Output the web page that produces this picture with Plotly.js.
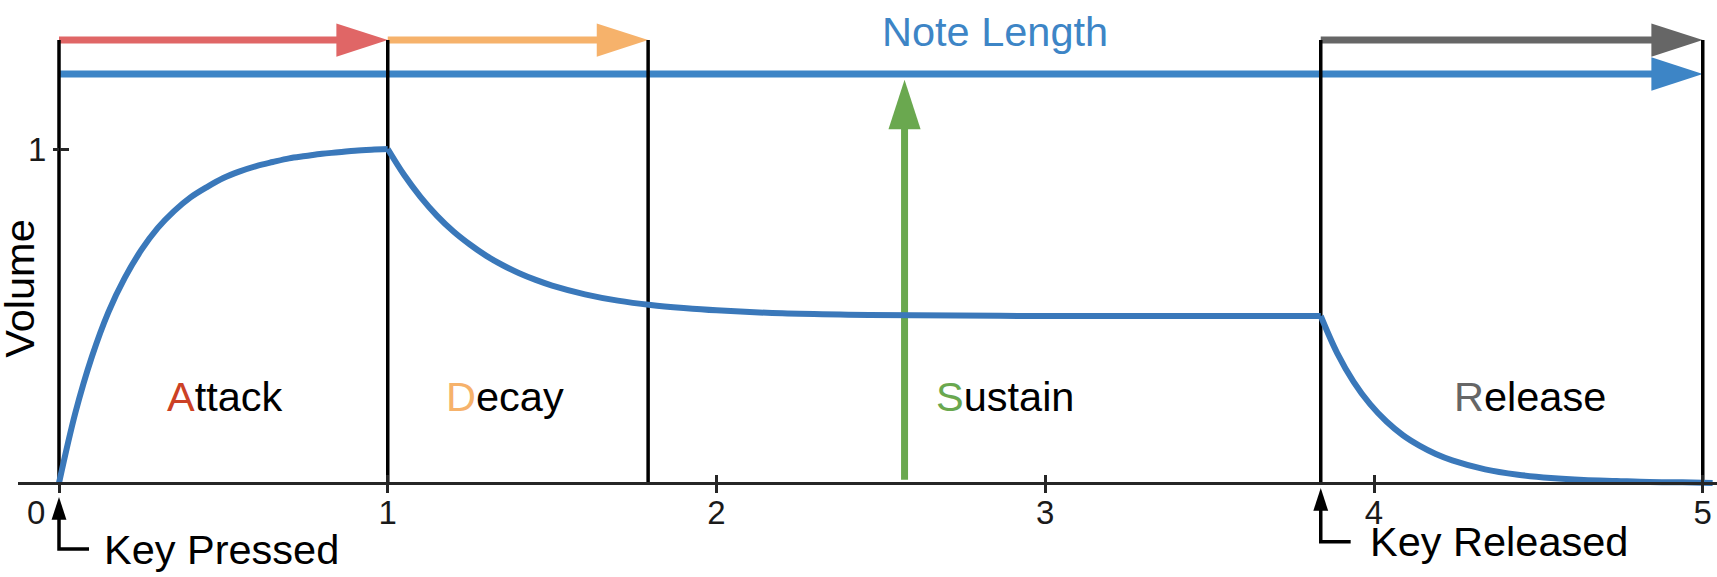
<!DOCTYPE html>
<html>
<head>
<meta charset="utf-8">
<script src="https://cdn.plot.ly/plotly-3.0.1.min.js"></script>
<style>
  html, body { margin: 0; padding: 0; background: #fff; }
  #chart { width: 1717px; height: 577px; }
</style>
</head>
<body>
<div id="chart"></div>
<script>
// ---------- data ----------
const phaseNames = ['Attack', 'Decay', 'Sustain', 'Release'];
const phaseInitialColors = ['#cc4125', '#f6b26b', '#6aa84f', '#666666'];
const phaseBounds = [0, 1, 1.792, 3.838, 5];
const phaseLabelX = [0.505, 1.358, 2.879, 4.473];
const phaseLabelY = 0.259;

const attackX = [0, 0.05, 0.1, 0.15, 0.2, 0.25, 0.3, 0.35, 0.4, 0.45, 0.5, 0.55, 0.6, 0.65, 0.7, 0.75, 0.8, 0.85, 0.9, 0.95, 1.0];
const attackY = [0, 0.211, 0.378, 0.511, 0.614, 0.697, 0.763, 0.814, 0.855, 0.886, 0.913, 0.933, 0.949, 0.961, 0.972, 0.979, 0.986, 0.990, 0.995, 0.998, 1.0];
const decayX = [1.0, 1.05, 1.1, 1.15, 1.2, 1.25, 1.3, 1.35, 1.4, 1.45, 1.5, 1.6, 1.7, 1.8, 1.9, 2.0, 2.2, 2.4, 2.6, 3.0, 3.4, 3.838];
const decayY = [1.0, 0.922, 0.856, 0.800, 0.753, 0.714, 0.680, 0.652, 0.628, 0.608, 0.591, 0.565, 0.546, 0.533, 0.524, 0.517, 0.508, 0.504, 0.502, 0.5, 0.5, 0.5];
const releaseX = [3.838, 3.888, 3.938, 3.988, 4.038, 4.088, 4.138, 4.188, 4.238, 4.338, 4.438, 4.538, 4.638, 4.738, 4.838, 4.938, 5.03];
const releaseY = [0.5, 0.389, 0.303, 0.236, 0.184, 0.143, 0.112, 0.087, 0.068, 0.041, 0.025, 0.015, 0.009, 0.006, 0.003, 0.002, 0.0];

const phaseArrowY = 1.326;          // row of the A / D / R arrows
const noteArrowY = 1.2246;          // note length arrow
const sustainArrowX = 2.572;
const sustainArrowY = [0.01, 1.207];
const noteLabel = 'Note Length';
const noteLabelPos = [2.847, 1.353];

const keyPressX = 0, keyReleaseX = 3.838;
const keyPressBracket = { hx: 0.0913, y: -0.1976, tip: -0.0419 };
const keyReleaseBracket = { hx: 3.929, y: -0.1757, tip: -0.015 };
const keyPressLabel = 'Key Pressed', keyPressLabelPos = [0.1308, -0.199];
const keyReleaseLabel = 'Key Released', keyReleaseLabelPos = [3.981, -0.1737];

const xTickVals = [0, 1, 2, 3, 4, 5];
const xTickText = ['0\u00a0\u00a0\u00a0\u00a0\u00a0', '1', '2', '3', '4', '5'];
const yTickVals = [1];
const yTickText = ['1'];
const yTitle = 'Volume';

const xRange = [-0.1247, 5.0433];
const yRange = [-0.2814, 1.4461];

// ---------- styles ----------
const W = 1717, H = 577, ML = 18;
const FONT = 'Liberation Sans, Arial, sans-serif';
const C = { red: '#e06666', orange: '#f6b26b', gray: '#666666', blue: '#3d85c6', green: '#6aa84f', env: '#3a78ba', axis: '#262626' };
const xPos = (0 - yRange[0]) / (yRange[1] - yRange[0]);
const yPos = (0 - xRange[0]) / (xRange[1] - xRange[0]);
const pxPerY = H / (yRange[1] - yRange[0]);

function arrowTrace(xs, ys, color, width, headSize, backoff) {
  const sizes = xs.map((_, i) => i === xs.length - 1 ? headSize : 0);
  return {
    x: xs, y: ys, mode: 'lines+markers', type: 'scatter',
    line: { color: color, width: width, backoff: backoff },
    marker: { symbol: 'arrow', size: sizes, angleref: 'previous', color: color, opacity: 1, line: { width: 0 } },
    hoverinfo: 'skip', showlegend: false
  };
}

function bracketTraces(b, x0) {
  const headSize = 24;
  const stop = b.tip - 12 / pxPerY;
  return [
    { x: [b.hx, x0, x0], y: [b.y, b.y, stop], mode: 'lines', type: 'scatter',
      line: { color: '#000', width: 3.5 }, hoverinfo: 'skip', showlegend: false },
    { x: [x0], y: [b.tip], mode: 'markers', type: 'scatter',
      marker: { symbol: 'arrow', size: headSize, angle: 0, color: '#000', opacity: 1, line: { width: 0 } },
      hoverinfo: 'skip', showlegend: false }
  ];
}

const traces = [];

// note length arrow (under the black lines)
traces.push(arrowTrace([phaseBounds[0], phaseBounds[4]], [noteArrowY, noteArrowY], C.blue, 7, 54, 22));
// phase arrows
traces.push(arrowTrace([phaseBounds[0], phaseBounds[1]], [phaseArrowY, phaseArrowY], C.red, 7, 54, 22));
traces.push(arrowTrace([phaseBounds[1], phaseBounds[2]], [phaseArrowY, phaseArrowY], C.orange, 7, 54, 22));
traces.push(arrowTrace([phaseBounds[3], phaseBounds[4]], [phaseArrowY, phaseArrowY], C.gray, 7, 54, 22));
// sustain arrow
traces.push(arrowTrace([sustainArrowX, sustainArrowX], sustainArrowY, C.green, 7, 52, 22));

// vertical phase boundary lines
const vx = [], vy = [];
phaseBounds.forEach(b => { vx.push(b, b, null); vy.push(0, phaseArrowY, null); });
traces.push({ x: vx, y: vy, mode: 'lines', type: 'scatter', line: { color: '#000', width: 3.5 }, hoverinfo: 'skip', showlegend: false });

// key pressed / released brackets
bracketTraces(keyPressBracket, keyPressX).forEach(t => traces.push(t));
bracketTraces(keyReleaseBracket, keyReleaseX).forEach(t => traces.push(t));

// envelope
[[attackX, attackY], [decayX, decayY], [releaseX, releaseY]].forEach(([xs, ys]) => {
  traces.push({ x: xs, y: ys, mode: 'lines', type: 'scatter', line: { color: C.env, width: 6, shape: 'spline', smoothing: 1 }, hoverinfo: 'skip', showlegend: false });
});

// dummy trace for overlay axes (inner half of tick marks)
traces.push({ x: [xTickVals[1]], y: [yTickVals[0]], xaxis: 'x2', yaxis: 'y2', mode: 'markers', marker: { opacity: 0 }, hoverinfo: 'skip', showlegend: false });

const annotations = [];
phaseNames.forEach((n, i) => {
  annotations.push({
    x: phaseLabelX[i], y: phaseLabelY, xref: 'x', yref: 'y', showarrow: false,
    text: '<span style="color:' + phaseInitialColors[i] + '">' + n[0] + '</span>' + n.slice(1),
    font: { family: FONT, size: 41.5, color: '#000' }, xanchor: 'center', yanchor: 'middle'
  });
});
annotations.push({ x: noteLabelPos[0], y: noteLabelPos[1], xref: 'x', yref: 'y', showarrow: false, text: noteLabel,
  font: { family: FONT, size: 41.5, color: C.blue }, xanchor: 'center', yanchor: 'middle' });
annotations.push({ x: keyPressLabelPos[0], y: keyPressLabelPos[1], xref: 'x', yref: 'y', showarrow: false, text: keyPressLabel,
  font: { family: FONT, size: 41.5, color: '#000' }, xanchor: 'left', yanchor: 'middle' });
annotations.push({ x: keyReleaseLabelPos[0], y: keyReleaseLabelPos[1], xref: 'x', yref: 'y', showarrow: false, text: keyReleaseLabel,
  font: { family: FONT, size: 41.5, color: '#000' }, xanchor: 'left', yanchor: 'middle' });
annotations.push({ x: -0.1195, y: 0.581, xref: 'x', yref: 'y', showarrow: false, text: yTitle, textangle: -90,
  font: { family: FONT, size: 41.5, color: '#000' }, xanchor: 'center', yanchor: 'middle' });

const tickFont = { family: FONT, size: 33, color: '#1a1a1a' };
const layout = {
  width: W, height: H,
  margin: { l: ML, r: 0, t: 0, b: 0, pad: 0 },
  paper_bgcolor: '#fff', plot_bgcolor: '#fff',
  showlegend: false, hovermode: false,
  xaxis: {
    range: xRange, anchor: 'free', position: xPos, showline: true, linewidth: 3, linecolor: C.axis,
    ticks: 'outside', ticklen: 8, tickwidth: 3, tickcolor: C.axis, ticklabelstandoff: -9,
    tickmode: 'array', tickvals: xTickVals, ticktext: xTickText, tickfont: tickFont,
    showgrid: false, zeroline: false, fixedrange: true
  },
  xaxis2: {
    range: xRange, overlaying: 'x', anchor: 'free', position: xPos, showline: false,
    ticks: 'inside', ticklen: 8, tickwidth: 3, tickcolor: C.axis,
    tickmode: 'array', tickvals: xTickVals.slice(1), showticklabels: false,
    showgrid: false, zeroline: false, fixedrange: true
  },
  yaxis: {
    range: yRange, anchor: 'free', position: yPos, showline: false,
    ticks: 'outside', ticklen: 6, tickwidth: 3, tickcolor: C.axis,
    tickmode: 'array', tickvals: yTickVals, ticktext: yTickText, tickfont: tickFont,
    showgrid: false, zeroline: false, fixedrange: true
  },
  yaxis2: {
    range: yRange, overlaying: 'y', anchor: 'free', position: yPos, showline: false,
    ticks: 'inside', ticklen: 9, tickwidth: 3, tickcolor: C.axis,
    tickmode: 'array', tickvals: yTickVals, showticklabels: false,
    showgrid: false, zeroline: false, fixedrange: true
  },
  annotations: annotations
};

Plotly.newPlot('chart', traces, layout, { displayModeBar: false, staticPlot: true });
</script>
</body>
</html>
